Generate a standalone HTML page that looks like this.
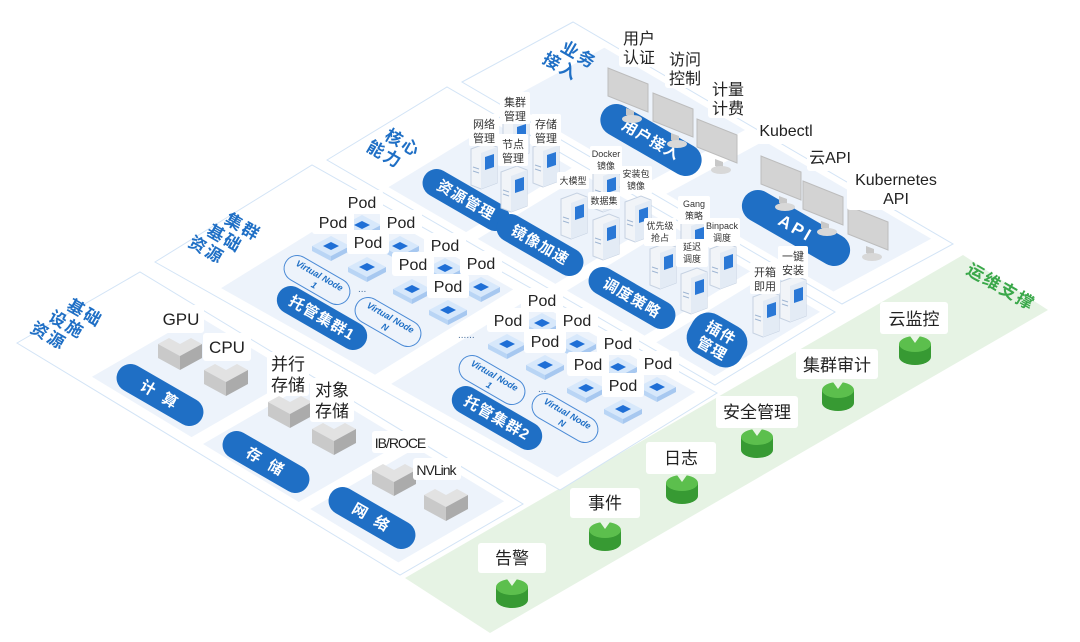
<!DOCTYPE html>
<html><head><meta charset="utf-8"><style>
html,body{margin:0;padding:0;background:#fff;}
svg{display:block;font-family:"Liberation Sans","Noto Sans CJK SC",sans-serif;}
.lb{fill:#fff;}
.t{fill:#222;font-size:15px;text-anchor:middle;}
.ts{fill:#333;font-size:11px;text-anchor:middle;}
.pt{fill:#fff;font-size:15px;font-weight:bold;text-anchor:middle;letter-spacing:3px;}
.ttl{fill:#1f6fc5;font-size:17px;font-weight:bold;text-anchor:middle;letter-spacing:2px;}
.vn{fill:#1f6fc5;font-size:9px;font-weight:bold;text-anchor:middle;font-style:italic;}
</style></head><body>
<svg width="1080" height="642" viewBox="0 0 1080 642" xmlns="http://www.w3.org/2000/svg">
<defs>
<g id="box"><polygon points="-22,-8 -11,-14 0,-8 11,-14 22,-8 0,4" fill="#e2e2e2"/><polygon points="-22,-8 0,4 0,18 -22,6" fill="#c9c9c9"/><polygon points="0,4 22,-8 22,6 0,18" fill="#ababab"/></g>
<g id="grn"><ellipse cx="0" cy="8" rx="16" ry="8" fill="#379a33"/><rect x="-16" y="-5" width="32" height="13" fill="#379a33"/><ellipse cx="0" cy="-5" rx="16" ry="8" fill="#5cbf4d"/><polygon points="-5,-13 0,-6 5,-13" fill="#e9f5e6"/></g>
<g id="mon"><polygon points="-20,-24 20,-8 20,20 -20,4" fill="#d3d3d3" stroke="#bdbdbd"/><polygon points="-2,16 6,19 6,26 -2,23" fill="#c8c8c8"/><ellipse cx="4" cy="27" rx="10" ry="4" fill="#d8d8d8"/></g>
<g id="srv"><polygon points="-12,-16 4,-22 14,-18 14,18 -2,24 -12,20" fill="#f1f4f8" stroke="#c6d2e2"/><polygon points="-2,-12 14,-18 14,18 -2,24" fill="#e3ebf5"/><polygon points="2,-8 11,-11 11,2 2,5" fill="#2a78d6"/><line x1="-10" y1="2" x2="-4" y2="4" stroke="#9fb5d2"/><line x1="-10" y1="6" x2="-4" y2="8" stroke="#9fb5d2"/></g>
<g id="pod"><polygon points="-19,0 0,-10 19,0 0,10" fill="#d7e8fb"/><polygon points="-19,0 0,10 0,15 -19,5" fill="#b9d5f5"/><polygon points="0,10 19,0 19,5 0,15" fill="#a7c8f0"/><polygon points="-8,0 0,-4 8,0 0,4" fill="#1f6fd6"/></g>
</defs>

<!-- green band -->
<g transform="matrix(558,-323,85,55,405,578)"><rect x="0" y="0" width="1" height="1" fill="#e6f3e4"/></g>
<text class="ttl" style="fill:#3aa84a" transform="translate(998,292) rotate(30)">运维支撑</text>

<!-- Layer A -->
<g transform="matrix(123,-71,383,232,17,343)">
<rect x="0" y="0" width="1" height="1" fill="#fff" stroke="#d3e4f6" vector-effect="non-scaling-stroke"/>
<rect x="0.08" y="0.17" width="0.86" height="0.26" fill="#edf3fb"/>
<rect x="0.08" y="0.46" width="0.86" height="0.25" fill="#edf3fb"/>
<rect x="0.08" y="0.74" width="0.86" height="0.23" fill="#edf3fb"/>
</g>
<!-- Layer B -->
<g transform="matrix(157,-97,405,228,155,262)">
<rect x="0" y="0" width="1" height="1" fill="#fff" stroke="#d3e4f6" vector-effect="non-scaling-stroke"/>
<rect x="0.06" y="0.14" width="0.88" height="0.38" fill="#edf3fb"/>
<rect x="0.06" y="0.56" width="0.88" height="0.41" fill="#edf3fb"/>
</g>
<!-- Layer C -->
<g transform="matrix(120,-73,388,225,327,160)">
<rect x="0" y="0" width="1" height="1" fill="#fff" stroke="#d3e4f6" vector-effect="non-scaling-stroke"/>
<rect x="0.06" y="0.14" width="0.88" height="0.2" fill="#edf3fb"/>
<rect x="0.06" y="0.37" width="0.88" height="0.2" fill="#edf3fb"/>
<rect x="0.06" y="0.6" width="0.88" height="0.2" fill="#edf3fb"/>
<rect x="0.06" y="0.83" width="0.88" height="0.15" fill="#edf3fb"/>
</g>
<!-- Layer D -->
<g transform="matrix(111,-60,380,222,462,82)">
<rect x="0" y="0" width="1" height="1" fill="#fff" stroke="#d3e4f6" vector-effect="non-scaling-stroke"/>
<rect x="0.06" y="0.1" width="0.88" height="0.37" fill="#edf3fb"/>
<rect x="0.06" y="0.52" width="0.88" height="0.44" fill="#edf3fb"/>
</g>

<!-- layer titles -->
<text class="ttl" transform="translate(82,318) rotate(30)"><tspan x="0" y="0">基础</tspan><tspan x="-10" y="19">设施</tspan><tspan x="-20" y="38">资源</tspan></text>
<text class="ttl" transform="translate(240,232) rotate(30)"><tspan x="0" y="0">集群</tspan><tspan x="-10" y="19">基础</tspan><tspan x="-20" y="38">资源</tspan></text>
<text class="ttl" transform="translate(400,148) rotate(30)"><tspan x="0" y="0">核心</tspan><tspan x="-10" y="19">能力</tspan></text>
<text class="ttl" transform="translate(576,60) rotate(30)"><tspan x="0" y="0">业务</tspan><tspan x="-10" y="19">接入</tspan></text>

<!-- pills -->
<g transform="translate(160,395) rotate(30)"><rect x="-48" y="-14" width="96" height="28" rx="14" fill="#1f6fc5"/><text class="pt" y="5">计 算</text></g>
<g transform="translate(266,462) rotate(30)"><rect x="-48" y="-14" width="96" height="28" rx="14" fill="#1f6fc5"/><text class="pt" y="5">存 储</text></g>
<g transform="translate(372,518) rotate(30)"><rect x="-48" y="-14" width="96" height="28" rx="14" fill="#1f6fc5"/><text class="pt" y="5">网 络</text></g>
<g transform="translate(322,318) rotate(30)"><rect x="-50" y="-14" width="100" height="28" rx="14" fill="#1f6fc5"/><text class="pt" y="5" style="letter-spacing:1px">托管集群1</text></g>
<g transform="translate(497,418) rotate(30)"><rect x="-50" y="-14" width="100" height="28" rx="14" fill="#1f6fc5"/><text class="pt" y="5" style="letter-spacing:1px">托管集群2</text></g>
<g transform="translate(317,280) rotate(30)"><rect x="-36" y="-13" width="72" height="26" rx="13" fill="none" stroke="#4a8ad6"/><text class="vn" y="-2">Virtual Node</text><text class="vn" y="9">1</text></g>
<g transform="translate(388,322) rotate(30)"><rect x="-36" y="-13" width="72" height="26" rx="13" fill="none" stroke="#4a8ad6"/><text class="vn" y="-2">Virtual Node</text><text class="vn" y="9">N</text></g>
<g transform="translate(492,380) rotate(30)"><rect x="-36" y="-13" width="72" height="26" rx="13" fill="none" stroke="#4a8ad6"/><text class="vn" y="-2">Virtual Node</text><text class="vn" y="9">1</text></g>
<g transform="translate(565,418) rotate(30)"><rect x="-36" y="-13" width="72" height="26" rx="13" fill="none" stroke="#4a8ad6"/><text class="vn" y="-2">Virtual Node</text><text class="vn" y="9">N</text></g>
<text x="358" y="292" fill="#4a6f9c" font-size="10">...</text>
<text x="458" y="338" fill="#4a6f9c" font-size="10">......</text>
<text x="538" y="392" fill="#4a6f9c" font-size="10">...</text>
<g transform="translate(466,200) rotate(30)"><rect x="-48" y="-14" width="96" height="28" rx="14" fill="#1f6fc5"/><text class="pt" y="5" style="letter-spacing:1px">资源管理</text></g>
<g transform="translate(540,245) rotate(30)"><rect x="-48" y="-14" width="96" height="28" rx="14" fill="#1f6fc5"/><text class="pt" y="5" style="letter-spacing:1px">镜像加速</text></g>
<g transform="translate(632,298) rotate(30)"><rect x="-48" y="-14" width="96" height="28" rx="14" fill="#1f6fc5"/><text class="pt" y="5" style="letter-spacing:1px">调度策略</text></g>
<g transform="translate(717,340) rotate(30)"><rect x="-30" y="-22" width="60" height="44" rx="18" fill="#1f6fc5"/><text class="pt" y="-3" style="letter-spacing:1px">插件</text><text class="pt" y="15" style="letter-spacing:1px">管理</text></g>
<g transform="translate(651,140) rotate(30)"><rect x="-56" y="-16" width="112" height="32" rx="16" fill="#1f6fc5"/><text class="pt" y="5" style="letter-spacing:1px">用户接入</text></g>
<g transform="translate(796,228) rotate(30)"><rect x="-60" y="-16" width="120" height="32" rx="16" fill="#1f6fc5"/><text class="pt" y="6" style="font-size:17px">API</text></g>

<!-- infra boxes -->
<use href="#box" x="180" y="352"/><use href="#box" x="226" y="378"/><use href="#box" x="290" y="410"/><use href="#box" x="334" y="437"/><use href="#box" x="394" y="478"/><use href="#box" x="446" y="503"/>
<g><rect x="158" y="305" width="46" height="28" rx="3" class="lb"/><text class="t" x="181" y="325" style="font-size:17px">GPU</text></g>
<g><rect x="203" y="333" width="48" height="28" rx="3" class="lb"/><text class="t" x="227" y="353" style="font-size:17px">CPU</text></g>
<g><rect x="267" y="352" width="42" height="44" rx="3" class="lb"/><text class="t" x="288" y="370" style="font-size:17px">并行</text><text class="t" x="288" y="391" style="font-size:17px">存储</text></g>
<g><rect x="310" y="378" width="44" height="44" rx="3" class="lb"/><text class="t" x="332" y="396" style="font-size:17px">对象</text><text class="t" x="332" y="417" style="font-size:17px">存储</text></g>
<g><rect x="372" y="431" width="56" height="22" rx="3" class="lb"/><text class="t" x="400" y="448" style="font-size:14px;letter-spacing:-1px">IB/ROCE</text></g>
<g><rect x="413" y="458" width="48" height="22" rx="3" class="lb"/><text class="t" x="436" y="475" style="font-size:14px;letter-spacing:-1px">NVLink</text></g>

<!-- pods -->
<g id="pods">
<use href="#pod" x="362" y="225"/><use href="#pod" x="331" y="246"/><use href="#pod" x="400" y="246"/><use href="#pod" x="367" y="267"/><use href="#pod" x="445" y="268"/><use href="#pod" x="412" y="289"/><use href="#pod" x="481" y="287"/><use href="#pod" x="448" y="310"/>
<use href="#pod" x="542" y="323"/><use href="#pod" x="507" y="344"/><use href="#pod" x="577" y="344"/><use href="#pod" x="545" y="365"/><use href="#pod" x="618" y="367"/><use href="#pod" x="586" y="388"/><use href="#pod" x="657" y="387"/><use href="#pod" x="623" y="409"/>
</g>
<g font-size="16" fill="#222" text-anchor="middle">
<rect x="341" y="190" width="42" height="24" rx="3" fill="#fff"/><text x="362" y="208">Pod</text>
<rect x="312" y="210" width="42" height="24" rx="3" fill="#fff"/><text x="333" y="228">Pod</text>
<rect x="380" y="210" width="42" height="24" rx="3" fill="#fff"/><text x="401" y="228">Pod</text>
<rect x="347" y="230" width="42" height="24" rx="3" fill="#fff"/><text x="368" y="248">Pod</text>
<rect x="424" y="233" width="42" height="24" rx="3" fill="#fff"/><text x="445" y="251">Pod</text>
<rect x="392" y="252" width="42" height="24" rx="3" fill="#fff"/><text x="413" y="270">Pod</text>
<rect x="460" y="251" width="42" height="24" rx="3" fill="#fff"/><text x="481" y="269">Pod</text>
<rect x="427" y="274" width="42" height="24" rx="3" fill="#fff"/><text x="448" y="292">Pod</text>
<rect x="521" y="288" width="42" height="24" rx="3" fill="#fff"/><text x="542" y="306">Pod</text>
<rect x="487" y="308" width="42" height="24" rx="3" fill="#fff"/><text x="508" y="326">Pod</text>
<rect x="556" y="308" width="42" height="24" rx="3" fill="#fff"/><text x="577" y="326">Pod</text>
<rect x="524" y="329" width="42" height="24" rx="3" fill="#fff"/><text x="545" y="347">Pod</text>
<rect x="597" y="331" width="42" height="24" rx="3" fill="#fff"/><text x="618" y="349">Pod</text>
<rect x="567" y="352" width="42" height="24" rx="3" fill="#fff"/><text x="588" y="370">Pod</text>
<rect x="637" y="351" width="42" height="24" rx="3" fill="#fff"/><text x="658" y="369">Pod</text>
<rect x="602" y="373" width="42" height="24" rx="3" fill="#fff"/><text x="623" y="391">Pod</text>
</g>

<!-- servers -->
<use href="#srv" x="515" y="135"/>
<use href="#srv" x="483" y="165"/><use href="#srv" x="513" y="188"/><use href="#srv" x="545" y="163"/>
<use href="#srv" x="605" y="188"/><use href="#srv" x="573" y="215"/><use href="#srv" x="637" y="218"/><use href="#srv" x="605" y="236"/>
<use href="#srv" x="693" y="238"/><use href="#srv" x="662" y="265"/><use href="#srv" x="722" y="265"/><use href="#srv" x="693" y="290"/>
<use href="#srv" x="765" y="313"/><use href="#srv" x="792" y="298"/>
<g class="ts">
<rect x="500" y="92" width="30" height="32" rx="2" fill="#fff"/><text x="515" y="106">集群</text><text x="515" y="120">管理</text>
<rect x="469" y="114" width="30" height="32" rx="2" fill="#fff"/><text x="484" y="128">网络</text><text x="484" y="142">管理</text>
<rect x="498" y="134" width="30" height="32" rx="2" fill="#fff"/><text x="513" y="148">节点</text><text x="513" y="162">管理</text>
<rect x="531" y="114" width="30" height="32" rx="2" fill="#fff"/><text x="546" y="128">存储</text><text x="546" y="142">管理</text>
<g style="font-size:9px">
<rect x="590" y="146" width="32" height="28" rx="2" fill="#fff"/><text x="606" y="157">Docker</text><text x="606" y="169">镜像</text>
<rect x="557" y="172" width="32" height="17" rx="2" fill="#fff"/><text x="573" y="184">大模型</text>
<rect x="620" y="166" width="32" height="28" rx="2" fill="#fff"/><text x="636" y="177">安装包</text><text x="636" y="189">镜像</text>
<rect x="588" y="192" width="32" height="17" rx="2" fill="#fff"/><text x="604" y="204">数据集</text>
<rect x="678" y="196" width="32" height="28" rx="2" fill="#fff"/><text x="694" y="207">Gang</text><text x="694" y="219">策略</text>
<rect x="644" y="218" width="32" height="28" rx="2" fill="#fff"/><text x="660" y="229">优先级</text><text x="660" y="241">抢占</text>
<rect x="704" y="218" width="36" height="28" rx="2" fill="#fff"/><text x="722" y="229">Binpack</text><text x="722" y="241">调度</text>
<rect x="676" y="239" width="32" height="28" rx="2" fill="#fff"/><text x="692" y="250">延迟</text><text x="692" y="262">调度</text>
</g>
<rect x="750" y="262" width="30" height="32" rx="2" fill="#fff"/><text x="765" y="276">开箱</text><text x="765" y="290">即用</text>
<rect x="778" y="246" width="30" height="32" rx="2" fill="#fff"/><text x="793" y="260">一键</text><text x="793" y="274">安装</text>
</g>

<!-- monitors -->
<use href="#mon" x="628" y="92"/><use href="#mon" x="673" y="117"/><use href="#mon" x="717" y="143"/>
<use href="#mon" x="781" y="180"/><use href="#mon" x="823" y="205"/><use href="#mon" x="868" y="230"/>
<g class="t" style="font-size:16px">
<rect x="619" y="27" width="40" height="40" rx="3" fill="#fff"/><text x="639" y="44">用户</text><text x="639" y="63">认证</text>
<rect x="665" y="48" width="40" height="40" rx="3" fill="#fff"/><text x="685" y="65">访问</text><text x="685" y="84">控制</text>
<rect x="708" y="78" width="40" height="40" rx="3" fill="#fff"/><text x="728" y="95">计量</text><text x="728" y="114">计费</text>
<rect x="757" y="116" width="58" height="28" rx="3" fill="#fff"/><text x="786" y="136">Kubectl</text>
<rect x="807" y="143" width="46" height="28" rx="3" fill="#fff"/><text x="830" y="163">云API</text>
<rect x="847" y="168" width="96" height="42" rx="3" fill="#fff"/><text x="896" y="185">Kubernetes</text><text x="896" y="204">API</text>
</g>

<!-- green ops -->
<use href="#grn" x="512" y="592"/><use href="#grn" x="605" y="535"/><use href="#grn" x="682" y="488"/><use href="#grn" x="757" y="442"/><use href="#grn" x="838" y="395"/><use href="#grn" x="915" y="349"/>
<g class="t" style="font-size:17px">
<rect x="478" y="543" width="68" height="30" rx="3" fill="#fff"/><text x="512" y="564">告警</text>
<rect x="570" y="488" width="70" height="30" rx="3" fill="#fff"/><text x="605" y="509">事件</text>
<rect x="646" y="442" width="70" height="32" rx="3" fill="#fff"/><text x="681" y="464">日志</text>
<rect x="716" y="396" width="82" height="32" rx="3" fill="#fff"/><text x="757" y="418">安全管理</text>
<rect x="796" y="349" width="82" height="30" rx="3" fill="#fff"/><text x="837" y="371">集群审计</text>
<rect x="880" y="302" width="68" height="32" rx="3" fill="#fff"/><text x="914" y="325">云监控</text>
</g>
</svg>
</body></html>
